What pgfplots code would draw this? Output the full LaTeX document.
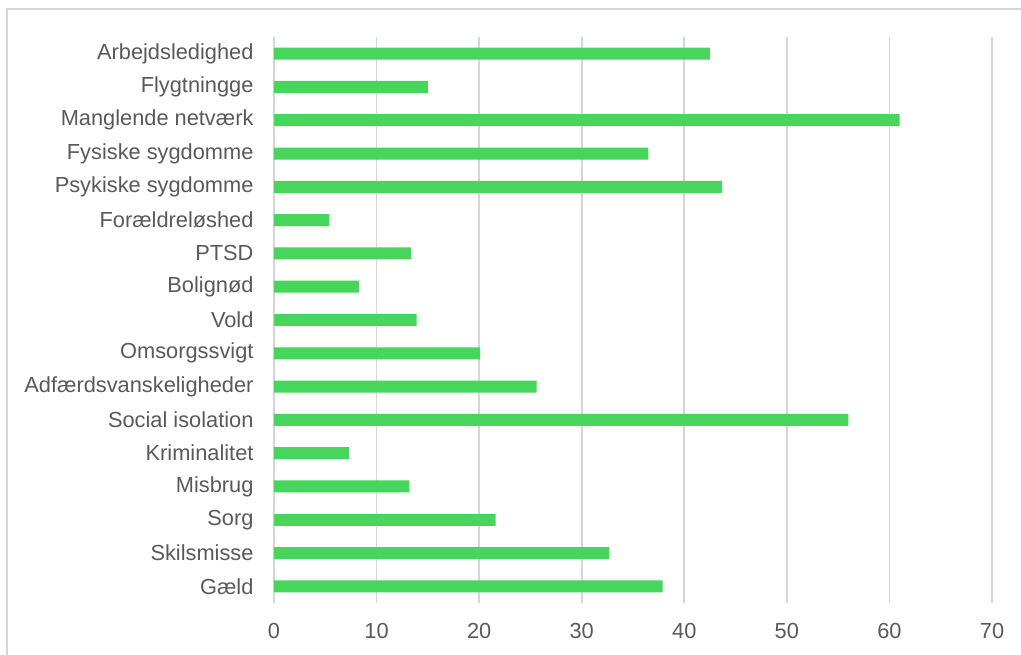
\documentclass[border=0pt]{standalone}
\usepackage{fontspec}
\setmainfont{Liberation Sans}
\usepackage{pgfplots}
\pgfplotsset{compat=1.18}
\definecolor{barg}{RGB}{72,213,92}
\definecolor{gridg}{RGB}{214,214,214}
\definecolor{txt}{RGB}{89,89,89}
\begin{document}
\begin{tikzpicture}[x=1pt,y=1pt]
\useasboundingbox (0,0) rectangle (1021,655);
\clip (0,0) rectangle (1021,655);
\draw[gridg, line width=1.2pt] (7,646) rectangle (1040,-20);
\begin{axis}[
  at={(274pt,52pt)}, anchor=south west,
  width=718pt, height=566pt, scale only axis,
  xbar, bar width=12pt,
  xmin=0, xmax=70, ymin=-0.5, ymax=16.5,
  xtick={0,10,...,70},
  ytick={0,...,16},
  yticklabels={Gæld,Skilsmisse,Sorg,Misbrug,Kriminalitet,Social isolation,Adfærdsvanskeligheder,Omsorgssvigt,Vold,Bolignød,PTSD,Forældreløshed,Psykiske sygdomme,Fysiske sygdomme,Manglende netværk,Flygtningge,Arbejdsledighed},
  xmajorgrids, grid style={gridg, line width=1.8pt},
  axis line style={draw=none},
  major tick length=0pt,
  /pgf/number format/assume math mode=true,
  tick label style={font=\fontsize{21.8}{26}\selectfont, text=txt},
  yticklabel style={xshift=-17pt},
  xticklabel style={yshift=-17pt},
]
\addplot[fill=barg, draw=none] coordinates {
(37.9,0) (32.7,1) (21.6,2) (13.2,3) (7.3,4) (56.0,5) (25.6,6) (20.1,7) (13.9,8) (8.3,9) (13.35,10) (5.4,11) (43.7,12) (36.5,13) (61.0,14) (15.0,15) (42.5,16)
};
\end{axis}
\end{tikzpicture}
\end{document}
